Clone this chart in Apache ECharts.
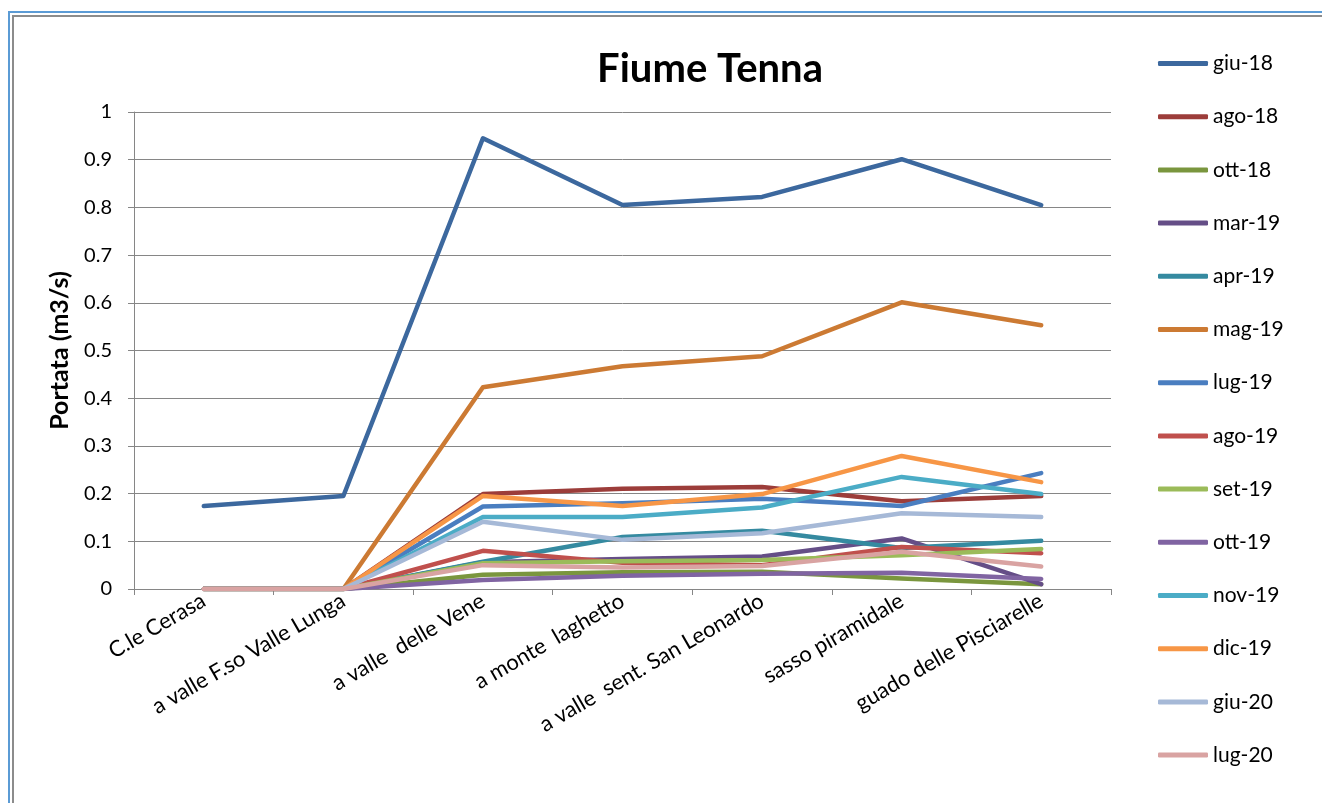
<!DOCTYPE html>
<html>
<head>
<meta charset="utf-8">
<script src="https://cdn.jsdelivr.net/npm/echarts@6/dist/echarts.min.js"></script>
<style>
  html, body { margin: 0; padding: 0; background: #fff; }
  #chart { width: 1322px; height: 803px; }
</style>
</head>
<body>
<div id="chart"></div>
<script>
// stazioni lungo il fiume
const categories = ['C.le Cerasa', 'a valle F.so Valle Lunga', 'a valle  delle Vene', 'a monte  laghetto',
  'a valle  sent. San Leonardo', 'sasso piramidale', 'guado delle Pisciarelle']

const yTicks = [0, 0.1, 0.2, 0.3, 0.4, 0.5, 0.6, 0.7, 0.8, 0.9, 1]

const giu18 = [0.174, 0.195, 0.945, 0.805, 0.822, 0.901, 0.805]
const ago18 = [0, 0, 0.199, 0.210, 0.214, 0.184, 0.195]
const ott18 = [0, 0, 0.030, 0.035, 0.036, 0.022, 0.010]
const mar19 = [0, 0, 0.056, 0.063, 0.068, 0.106, 0.010]
const apr19 = [0, 0, 0.057, 0.109, 0.122, 0.086, 0.101]
const mag19 = [0, 0, 0.423, 0.467, 0.488, 0.601, 0.553]
const lug19 = [0, 0, 0.173, 0.180, 0.189, 0.174, 0.243]
const ago19 = [0, 0, 0.080, 0.055, 0.050, 0.088, 0.075]
const set19 = [0, 0, 0.054, 0.058, 0.061, 0.071, 0.084]
const ott19 = [0, 0, 0.019, 0.028, 0.032, 0.034, 0.021]
const nov19 = [0, 0, 0.151, 0.151, 0.171, 0.235, 0.199]
const dic19 = [0, 0, 0.195, 0.174, 0.199, 0.279, 0.224]
const giu20 = [0, 0, 0.141, 0.103, 0.117, 0.159, 0.151]
const lug20 = [0, 0, 0.050, 0.045, 0.048, 0.078, 0.047]

const seriesNames = ['giu-18', 'ago-18', 'ott-18', 'mar-19', 'apr-19', 'mag-19', 'lug-19',
  'ago-19', 'set-19', 'ott-19', 'nov-19', 'dic-19', 'giu-20', 'lug-20']
const seriesData = [giu18, ago18, ott18, mar19, apr19, mag19, lug19,
  ago19, set19, ott19, nov19, dic19, giu20, lug20]
const colors = ['#3C689E', '#9C3D3A', '#7A963E', '#654E87', '#358AA0', '#CC7A33', '#4A7EC0',
  '#C0504D', '#9BBB59', '#8064A2', '#4BACC6', '#F79646', '#A6B9D7', '#D9A3A2']

const fontFamily = 'Lato, "Open Sans", sans-serif'

const chart = echarts.init(document.getElementById('chart'))
chart.setOption({
  animation: false,
  color: colors,
  title: {
    text: 'Fiume Tenna',
    left: 705,
    top: 44,
    textAlign: 'center',
    textStyle: {
      color: '#000',
      fontFamily: fontFamily,
      fontWeight: 'bold',
      fontSize: 40
    }
  },
  legend: {
    data: seriesNames,
    orient: 'vertical',
    icon: 'roundRect',
    left: 1158,
    top: 53,
    padding: 0,
    itemWidth: 50,
    itemHeight: 5,
    itemGap: 32.2,
    textStyle: {
      color: '#000',
      fontFamily: fontFamily,
      fontSize: 21,
      lineHeight: 20
    }
  },
  grid: {
    left: 134,
    right: 211,
    top: 112,
    bottom: 214,
    containLabel: false
  },
  xAxis: {
    type: 'category',
    data: categories,
    boundaryGap: true,
    axisLine: { lineStyle: { color: '#868686', width: 1 } },
    axisTick: { show: true, length: 6, interval: 0, lineStyle: { color: '#868686' } },
    axisLabel: {
      interval: 0,
      rotate: 30,
      margin: 10,
      color: '#000',
      fontFamily: fontFamily,
      fontSize: 22
    },
    splitLine: { show: false }
  },
  yAxis: {
    type: 'value',
    min: yTicks[0],
    max: yTicks[yTicks.length - 1],
    interval: 0.1,
    name: 'Portata (m3/s)',
    nameLocation: 'middle',
    nameGap: 62,
    nameTextStyle: {
      color: '#000',
      fontFamily: fontFamily,
      fontWeight: 'bold',
      fontSize: 25
    },
    axisLine: { show: true, lineStyle: { color: '#868686', width: 1 } },
    axisTick: { show: true, length: 6, lineStyle: { color: '#868686' } },
    axisLabel: {
      margin: 22,
      color: '#000',
      fontFamily: fontFamily,
      fontSize: 20,
      formatter: (v) => String(Math.round(v * 10) / 10)
    },
    splitLine: { lineStyle: { color: '#868686', width: 1 } }
  },
  graphic: [
    {
      type: 'rect',
      silent: true,
      shape: { x: 9, y: 12, width: 1400, height: 900 },
      style: { fill: 'none', stroke: '#5B9BD5', lineWidth: 2 }
    },
    {
      type: 'rect',
      silent: true,
      shape: { x: 13, y: 16, width: 1400, height: 900 },
      style: { fill: 'none', stroke: '#8C8C8C', lineWidth: 2 }
    }
  ],
  series: seriesNames.map((name, i) => ({
    name: name,
    type: 'line',
    data: seriesData[i],
    symbol: 'none',
    lineStyle: { width: 4.5, cap: 'round', join: 'round' }
  }))
})
</script>
</body>
</html>
